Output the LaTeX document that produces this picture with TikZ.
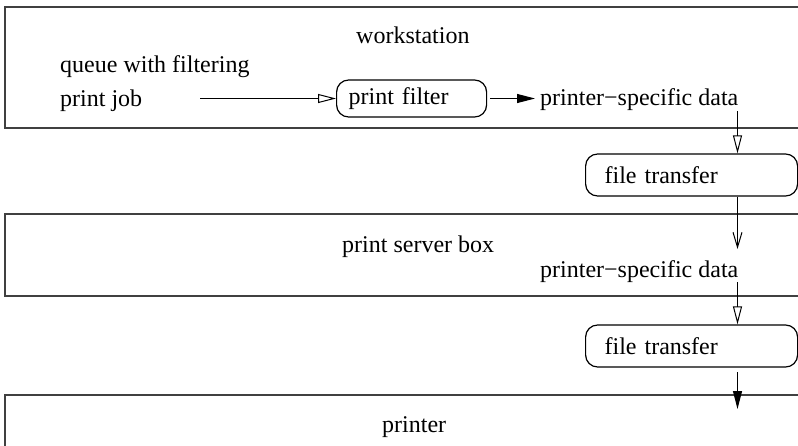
\documentclass[tikz,border=0pt]{standalone}
\usepackage{fontspec}
\setmainfont{Liberation Serif}
\usetikzlibrary{arrows.meta}
\definecolor{regiongray}{RGB}{64,64,64}
\begin{document}
\begin{tikzpicture}[x=1pt,y=-1pt,
  every node/.style={font=\fontsize{24}{28}\selectfont},
  region/.style={draw=regiongray, line width=1.8pt},
  proc/.style={draw, rounded corners=12pt, line width=1.2pt, anchor=west, align=left},
  conn/.style={line width=1pt},
  opentip/.style={-{Triangle[open,length=18pt,width=9pt]}},
  solidtip/.style={-{Triangle[length=18pt,width=9pt]}},
  barbtip/.style={-{Straight Barb[length=15pt,width=9pt]}},
  lbl/.style={anchor=base west, inner sep=0pt}]
\useasboundingbox (0,0) rectangle (798,445);
\clip (0,0) rectangle (798,445);
% regions
\draw[region] (5,7) rectangle (830,128);
\draw[region] (5,214) rectangle (830,296);
\draw[region] (5,395) rectangle (830,480);
% workstation
\node[lbl] (ws) at (356,43) {workstation};
\node[lbl] (queue) at (60,72) {queue with filtering};
\node[lbl] (job) at (60,106) {print job};
\coordinate (jobout) at (200,98.5);
\node[proc, minimum width=150pt, minimum height=37pt, text width=126pt, inner xsep=12pt] (filter) at (336,98.5) {print filter};
\node[lbl] (psd1) at (540,105) {printer−specific data};
\draw[conn, opentip] (jobout) -- (filter.west);
\draw[conn, solidtip] ([xshift=3pt]filter.east) -- ([xshift=-5pt]psd1.west |- filter.east);
% first transfer
\coordinate (d1) at (737.5,111);
\node[proc, minimum width=212pt, minimum height=42pt, text width=174pt, inner xsep=19pt] (ft1) at (585,175) {file transfer};
\draw[conn, opentip] (d1) -- (d1 |- ft1.north);
\coordinate (d2) at (737.5,249);
\draw[conn, barbtip] (d2 |- ft1.south) -- (d2);
% print server box
\node[lbl] (psb) at (342,252) {print server box};
\node[lbl] (psd2) at (540,277) {printer−specific data};
\coordinate (d3) at (737.5,282);
\node[proc, minimum width=212pt, minimum height=42pt, text width=174pt, inner xsep=19pt] (ft2) at (585,346) {file transfer};
\draw[conn, opentip] (d3) -- (d3 |- ft2.north);
\coordinate (d4) at (737.5,372);
\coordinate (d5) at (737.5,409);
\draw[conn, solidtip] (d4) -- (d5);
% printer
\node[lbl] (prn) at (382,432) {printer};
\end{tikzpicture}
\end{document}
